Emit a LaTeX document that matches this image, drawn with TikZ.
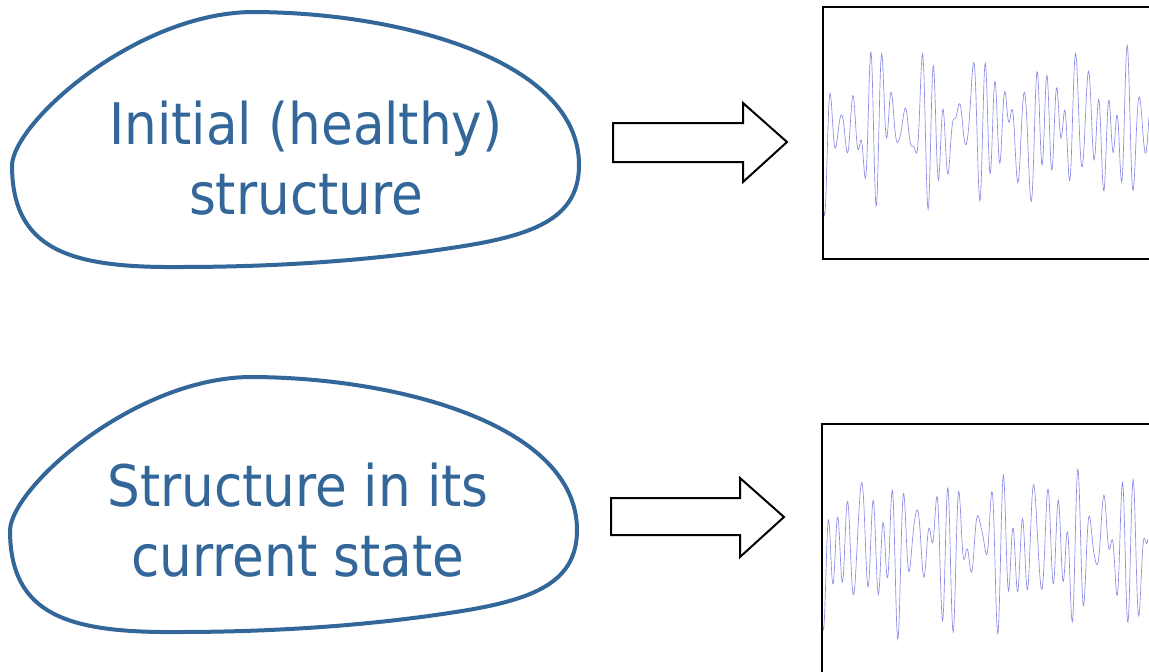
\documentclass[tikz,border=0pt]{standalone}
\usepackage{fontspec}
\setmainfont{DejaVu Sans Condensed}
\definecolor{blobblue}{HTML}{336699}
\definecolor{sigblue}{HTML}{8C8CE6}

\tikzset{
    blob/.style={draw=blobblue,line width=3pt},
    blobtext/.style={text=blobblue,align=center,font=\fontsize{43}{52}\selectfont},
    bigarrow/.style={draw,line width=1.5pt,line join=miter},
    sigframe/.style={draw,line width=1.6pt},
    signal/.style={sigblue,line width=0.5pt}
}

\newcommand{\blobpath}{(12,165) .. controls (14,122) and (135,14) .. (251,12)
    .. controls (400,12) and (579,60) .. (579,165)
    .. controls (579,215) and (540,233) .. (470,245)
    .. controls (380,260) and (280,267) .. (180,267)
    .. controls (70,268) and (12,250) .. cycle}

\begin{document}
\begin{tikzpicture}[x=0.75pt,y=-0.75pt]
    \useasboundingbox (0,0) rectangle (1149,671);
    % blobs
    \draw[blob] \blobpath;
    \draw[blob,shift={(-2,365)}] \blobpath;
    \node[blobtext] (healthy) at (306,158) {Initial (healthy)\\structure};
    \node[blobtext] (current) at (298,520) {Structure in its\\current state};
    % block arrows
    \coordinate (a1) at (613,123);
    \coordinate (a2) at (611,498);
    \draw[bigarrow] (a1) -- ++(130,0) -- ++(0,-20) -- ++(44,39) -- ++(-44,40) -- ++(0,-20) -- ++(-130,0) -- cycle;
    \draw[bigarrow] (a2) -- ++(129,0) -- ++(0,-20) -- ++(44,39) -- ++(-44,40) -- ++(0,-22) -- ++(-129,0) -- cycle;
    % signal frames
    \coordinate (s1) at (823,7);
    \coordinate (s2) at (822,424);
    \draw[sigframe] (1150,7) -- (s1) -- (823,259) -- (1150,259);
    \draw[sigframe] (1150,424) -- (s2) -- (822,672);
    % signals
    \begin{scope}[shift={(s1)}]
        \draw[signal] plot[domain=1:326,samples=700] (\x,{120+30*sin(35*\x+20)+26*sin(28*\x+55)+20*sin(21*\x+10)+16*sin(41*\x+80)+10*sin(9*\x+70)+8*sin(4*\x)});
    \end{scope}
    \begin{scope}[shift={(s2)}]
        \draw[signal] plot[domain=1:326,samples=700] (\x,{122+32*sin(33*\x+75)+28*sin(25*\x+15)+22*sin(39*\x+40)+14*sin(15*\x+5)+10*sin(6*\x+30)});
    \end{scope}
\end{tikzpicture}
\end{document}
